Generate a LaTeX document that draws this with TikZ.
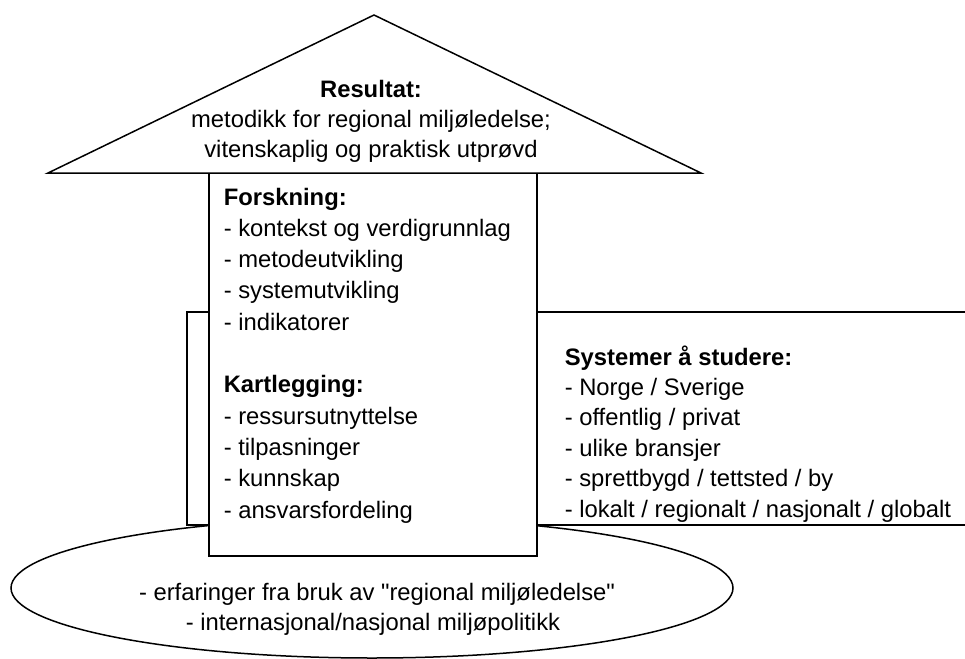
\documentclass[tikz,border=0pt]{standalone}
\usepackage{fontspec}
\setmainfont{Liberation Sans}[Ligatures=TeXOff]
\begin{document}
\begin{tikzpicture}[x=0.5pt, y=-0.5pt, line width=0.75pt,
		box/.style={draw, fill=white},
		item/.style={anchor=base west, inner sep=0pt, font=\fontsize{11.9}{13}\selectfont},
		mid/.style={anchor=base, inner sep=0pt, font=\fontsize{11.9}{13}\selectfont}]
		\useasboundingbox (0,0) rectangle (965,659);
		
		% grunnmur
		\draw (372,588) ellipse [x radius=180.5pt, y radius=35pt];
		\node[mid] (erf) at (377,600) {- erfaringer fra bruk av "regional miljøledelse"};
		\node[mid] (pol) at (373,630) {- internasjonal/nasjonal miljøpolitikk};
		
		% vegger
		\draw[box] (966,312) -- (537,312) -- (537,525) -- (966,525);
		\draw[box] (187,312) rectangle (209,525);
		\draw[box] (209,173) rectangle (537,556);
		
		% tak
		\draw[box] (48,173) -- (374,15) -- (701,173) -- cycle;
		\node[mid] (res) at (371,97) {\textbf{Resultat:}};
		\node[mid] (met) at (371,127.5) {metodikk for regional miljøledelse;};
		\node[mid] (vit) at (371,157) {vitenskaplig og praktisk utprøvd};
		
		\foreach \t [count=\i from 0] in {\textbf{Forskning:}, - kontekst og verdigrunnlag, - metodeutvikling, - systemutvikling, - indikatorer}{
			\node[item] (f\i) at (223,{205+31.3*\i}) {\t};
		}
		\foreach \t [count=\i from 0] in {\textbf{Kartlegging:}, - ressursutnyttelse, - tilpasninger, - kunnskap, - ansvarsfordeling}{
			\node[item] (k\i) at (223,{392.8+31.3*\i}) {\t};
		}
		\foreach \t [count=\i from 0] in {\textbf{Systemer å studere:}, - Norge / Sverige, - offentlig / privat, - ulike bransjer, - sprettbygd / tettsted / by, - lokalt / regionalt / nasjonalt / globalt}{
			\node[item] (s\i) at (564,{365+30.4*\i}) {\t};
		}
\end{tikzpicture}
\end{document}
